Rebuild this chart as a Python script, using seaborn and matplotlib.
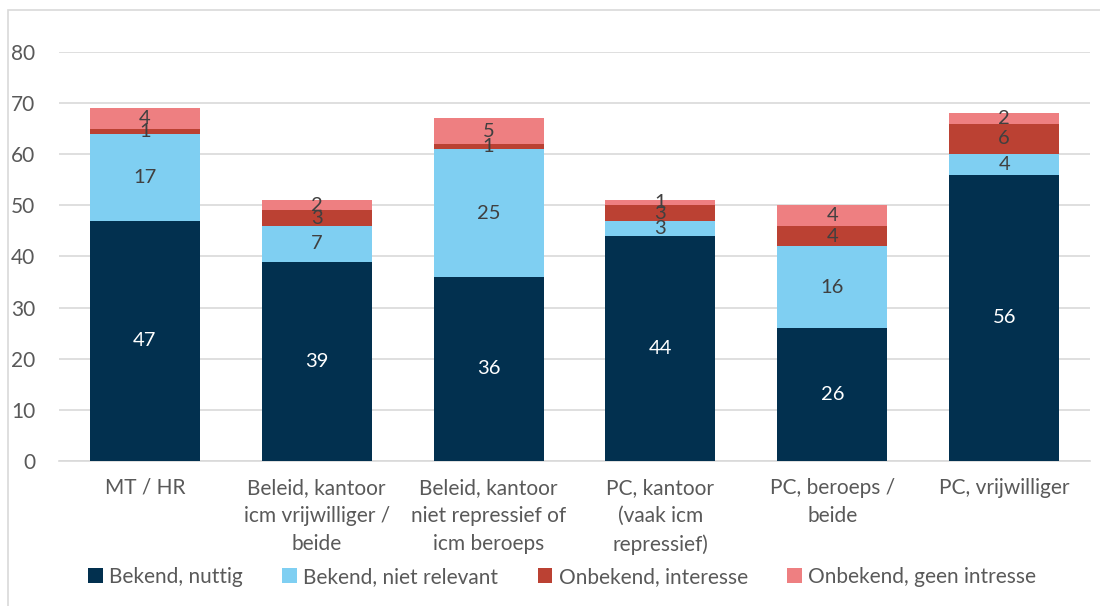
import numpy as np
import pandas as pd
import matplotlib
matplotlib.use("Agg")
import matplotlib.pyplot as plt
import seaborn as sns

# Data
categorieen = ["MT / HR",
               "Beleid, kantoor\nicm vrijwilliger /\nbeide",
               "Beleid, kantoor\nniet repressief of\nicm beroeps",
               "PC, kantoor\n(vaak icm\nrepressief)",
               "PC, beroeps /\nbeide",
               "PC, vrijwilliger"]
series = ["Bekend, nuttig", "Bekend, niet relevant",
          "Onbekend, interesse", "Onbekend, geen intresse"]
bekend_nuttig = [47, 39, 36, 44, 26, 56]
bekend_niet_relevant = [17, 7, 25, 3, 16, 4]
onbekend_interesse = [1, 3, 1, 3, 4, 6]
onbekend_geen = [4, 2, 5, 1, 4, 2]

kleuren = ["#02304f", "#7fcff2", "#bb4133", "#ee7f81"]
tekstkleuren = ["white", "#404040", "#404040", "#404040"]

waarden = np.array([bekend_nuttig, bekend_niet_relevant, onbekend_interesse, onbekend_geen])
cum = waarden.cumsum(axis=0)

sns.set_style("white")
plt.rcParams["font.family"] = ["Lato", "DejaVu Sans"]

fig = plt.figure(figsize=(11, 6.06), dpi=100)
ax = fig.add_axes([0.0536, 0.2393, 0.9374, 0.6749])

# Layered bars: draw the cumulative totals from top series down
for i in range(len(series) - 1, -1, -1):
    df = pd.DataFrame({"cat": categorieen, "val": cum[i]})
    sns.barplot(data=df, x="cat", y="val", color=kleuren[i], width=0.64,
                saturation=1, ax=ax, zorder=3, label=series[i], linewidth=0)

# Data labels in the middle of each segment
for i in range(len(series)):
    for j in range(len(categorieen)):
        onder = cum[i][j] - waarden[i][j]
        ax.text(j, onder + waarden[i][j] / 2, str(waarden[i][j]),
                ha="center", va="center", fontsize=14.5, color=tekstkleuren[i], zorder=5)

handles, labels = ax.get_legend_handles_labels()
if ax.get_legend() is not None:
    ax.get_legend().remove()

ax.set_ylim(0, 80)
ax.set_yticks(range(0, 81, 10))
ax.set_xlim(-0.5, 5.5)
ax.yaxis.grid(True, color="#d9d9d9", linewidth=1.2, zorder=0)
ax.set_axisbelow(True)
for s in ["top", "right", "left"]:
    ax.spines[s].set_visible(False)
ax.spines["bottom"].set_color("#d9d9d9")
ax.spines["bottom"].set_linewidth(1.2)
ax.set_xlabel("")
ax.set_ylabel("")
ax.tick_params(axis="both", length=0, labelsize=15, labelcolor="#595959")
ax.tick_params(axis="x", pad=12)
ax.tick_params(axis="y", pad=17)
for t in ax.get_xticklabels():
    t.set_linespacing(1.5)

# Legend in series order
order = [labels.index(s) for s in series]
leg = fig.legend([handles[k] for k in order], [labels[k] for k in order],
                 loc="center", bbox_to_anchor=(0.511, 0.048), ncol=4, frameon=False,
                 fontsize=15, handlelength=0.7, handleheight=0.7, handletextpad=0.3,
                 columnspacing=1.9, labelcolor="#595959")

# Outer chart border
rect = plt.Rectangle((8 / 1100, -0.1), 1.2, 1 - 10 / 606 + 0.1, transform=fig.transFigure,
                     fill=False, edgecolor="#d9d9d9", linewidth=1.2)
fig.patches.append(rect)

fig.savefig("out.png", dpi=100)
